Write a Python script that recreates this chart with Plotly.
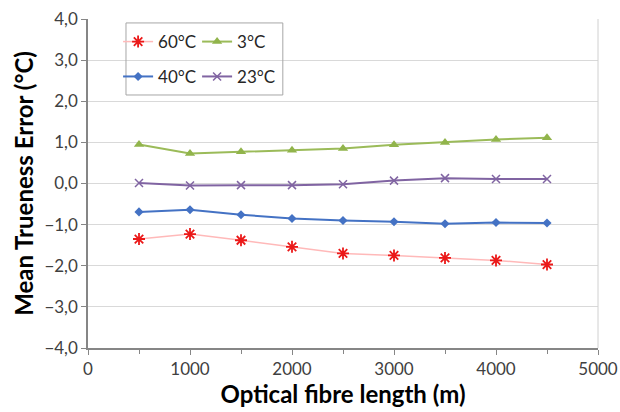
import plotly.graph_objects as go

lengths = [500, 1000, 1500, 2000, 2500, 3000, 3500, 4000, 4500]
t60 = [-1.35, -1.23, -1.38, -1.54, -1.70, -1.75, -1.81, -1.87, -1.97]
t3 = [0.95, 0.73, 0.77, 0.81, 0.85, 0.94, 1.00, 1.07, 1.11]
t40 = [-0.69, -0.64, -0.76, -0.85, -0.90, -0.93, -0.98, -0.95, -0.96]
t23 = [0.01, -0.05, -0.04, -0.04, -0.02, 0.07, 0.13, 0.11, 0.11]

FONT = "Lato"
fig = go.Figure()
fig.add_trace(go.Scatter(x=lengths, y=t60, name="60°C", mode="lines+markers", legend="legend",
                         line=dict(color="rgb(255,185,185)", width=1.5),
                         marker=dict(symbol="asterisk-open", size=10, color="rgb(235,25,25)",
                                     line=dict(color="rgb(235,25,25)", width=1.8))))
fig.add_trace(go.Scatter(x=lengths, y=t3, name="3°C", mode="lines+markers", legend="legend",
                         line=dict(color="rgb(155,187,89)", width=2),
                         marker=dict(symbol="triangle-up", size=9, color="rgb(145,180,75)")))
fig.add_trace(go.Scatter(x=lengths, y=t40, name="40°C", mode="lines+markers", legend="legend2",
                         line=dict(color="rgb(68,114,196)", width=2),
                         marker=dict(symbol="diamond", size=7, color="rgb(68,114,196)")))
fig.add_trace(go.Scatter(x=lengths, y=t23, name="23°C", mode="lines+markers", legend="legend2",
                         line=dict(color="rgb(128,100,162)", width=2),
                         marker=dict(symbol="x-thin-open", size=8, color="rgb(128,100,162)",
                                     line=dict(color="rgb(128,100,162)", width=1.5))))

leg_common = dict(orientation="h", xanchor="left", yanchor="middle",
                  entrywidth=34, entrywidthmode="pixels",
                  bgcolor="rgba(0,0,0,0)", borderwidth=0,
                  font=dict(family=FONT, size=17, color="#262626"))

fig.update_layout(
    width=620, height=412,
    margin=dict(l=88, r=22, t=19, b=64),
    paper_bgcolor="white", plot_bgcolor="white",
    separators=",.",
    font=dict(family=FONT, size=17, color="#404040"),
    showlegend=True,
    legend=dict(x=0.059, y=0.930, **leg_common),
    legend2=dict(x=0.059, y=0.824, **leg_common),
    xaxis=dict(range=[0, 5000], tickvals=[0, 1000, 2000, 3000, 4000, 5000],
               automargin=False,
               ticks="outside", ticklen=5, tickcolor="#868686",
               minor=dict(dtick=500, ticks="outside", ticklen=4, tickcolor="#868686", showgrid=False),
               showline=True, linecolor="#868686", linewidth=1.5,
               showgrid=False, zeroline=False,
               tickfont=dict(family=FONT, size=17, color="#404040"),
               title=dict(text="<b>Optical fibre length (m)</b>", standoff=6,
                          font=dict(family=FONT, size=24, color="black"))),
    yaxis=dict(range=[-4, 4], dtick=1, tickformat=".1f",
               automargin=False,
               ticks="outside", ticklen=5, tickcolor="#868686",
               showline=True, linecolor="#868686", linewidth=1.5,
               showgrid=True, gridcolor="#D9D9D9", gridwidth=1, zeroline=False,
               tickfont=dict(family=FONT, size=17, color="#404040"),
               title=dict(text="<b>Mean Trueness Error (°C)</b>", standoff=4,
                          font=dict(family=FONT, size=24, color="black"))),
    shapes=[dict(type="line", xref="paper", yref="paper", x0=1, x1=1, y0=0, y1=1,
                 line=dict(color="#D0D0D0", width=1)),
            dict(type="rect", xref="paper", yref="paper", x0=0.0745, x1=0.382,
                 y0=0.769, y1=0.988, line=dict(color="#A6A6A6", width=1),
                 fillcolor="rgba(0,0,0,0)", layer="above")],
)

fig.write_html("out.html")
